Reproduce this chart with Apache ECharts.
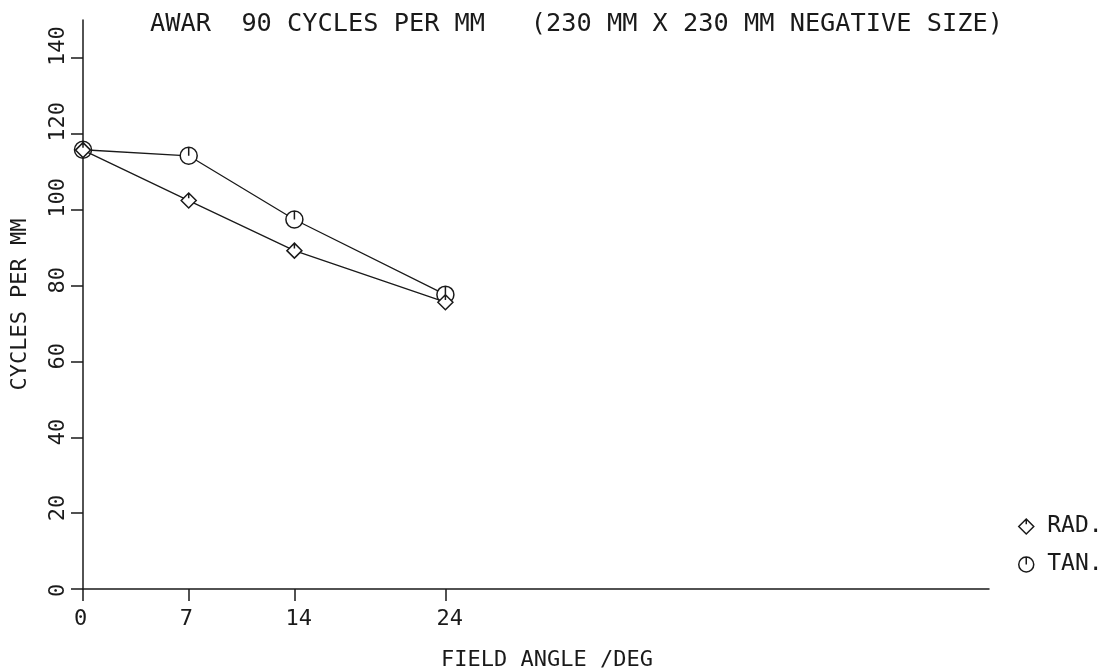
<!DOCTYPE html>
<html>
<head>
<meta charset="utf-8">
<script src="https://cdn.jsdelivr.net/npm/echarts@6/dist/echarts.min.js"></script>
<style>
html,body{margin:0;padding:0;background:#fff;}
#chart{width:1111px;height:671px;}
</style>
</head>
<body>
<div id="chart"></div>
<script>
const fieldAngles = [0, 7, 14, 24];
const radValues = [115.7, 102.4, 89.2, 75.6];
const tanValues = [115.8, 114.2, 97.4, 77.6];
const xTickValues = [0, 7, 14, 24];
const yTickValues = [0, 20, 40, 60, 80, 100, 120, 140];
const seriesNames = ['RAD.', 'TAN.'];
const titleText = 'AWAR  90 CYCLES PER MM   (230 MM X 230 MM NEGATIVE SIZE)';

const FONT = 'DejaVu Sans Mono';
const INK = '#1a1a1a';
const diamondSym = 'path://M0,-10 L10,0 L0,10 L-10,0 Z M0,-10 L0,-3';
const circleSym = 'path://M0,-10 A10,10 0 1,1 0,10 A10,10 0 1,1 0,-10 Z M0,-10 L0,0';

const chart = echarts.init(document.getElementById('chart'));
chart.setOption({
  backgroundColor: '#fff',
  animation: false,
  title: {
    text: titleText,
    left: 145, top: 7,
    textStyle: {fontFamily: FONT, fontSize: 25.3, fontWeight: 'normal', color: INK}
  },
  legend: {
    orient: 'vertical',
    left: 1013, top: 510,
    itemWidth: 32, itemHeight: 15, itemGap: 15,
    textStyle: {fontFamily: FONT, fontSize: 23, color: INK},
    data: [
      {name: seriesNames[0], icon: diamondSym, itemStyle: {color: '#fff', borderColor: INK, borderWidth: 1.5}},
      {name: seriesNames[1], icon: circleSym, itemStyle: {color: '#fff', borderColor: INK, borderWidth: 1.5}}
    ]
  },
  grid: {left: 83, right: 122, top: 20, bottom: 82, containLabel: false, outerBoundsMode: 'none'},
  xAxis: {
    type: 'value', min: 0, max: 60,
    name: 'FIELD ANGLE /DEG', nameLocation: 'middle', nameGap: 60,
    nameTextStyle: {fontFamily: FONT, fontSize: 22, color: INK, padding: [0, 0, 0, 22]},
    axisLine: {show: true, onZero: false, lineStyle: {color: INK, width: 1.5}},
    axisTick: {show: true, length: 12, customValues: xTickValues, lineStyle: {color: INK, width: 1.5}},
    axisLabel: {customValues: xTickValues, margin: 19, align: 'left', padding: [0, 0, 0, -9], fontFamily: FONT, fontSize: 22, color: INK},
    splitLine: {show: false}
  },
  yAxis: {
    type: 'value', min: 0, max: 150,
    name: 'CYCLES PER MM', nameLocation: 'middle', nameGap: 52,
    nameTextStyle: {fontFamily: FONT, fontSize: 22, color: INK},
    axisLine: {show: true, onZero: false, lineStyle: {color: INK, width: 1.5}},
    axisTick: {show: true, length: 12, customValues: yTickValues, lineStyle: {color: INK, width: 1.5}},
    axisLabel: {customValues: yTickValues, rotate: 90, margin: 14, align: 'left', padding: [0, 0, 0, -8], fontFamily: FONT, fontSize: 22, color: INK},
    splitLine: {show: false}
  },
  series: [
    {
      name: seriesNames[0], type: 'line',
      data: fieldAngles.map((x, i) => [x, radValues[i]]),
      symbol: diamondSym, symbolSize: 15,
      itemStyle: {color: '#fff', borderColor: INK, borderWidth: 1.5},
      lineStyle: {color: INK, width: 1.3}, z: 3
    },
    {
      name: seriesNames[1], type: 'line',
      data: fieldAngles.map((x, i) => [x, tanValues[i]]),
      symbol: circleSym, symbolSize: 17,
      itemStyle: {color: '#fff', borderColor: INK, borderWidth: 1.5},
      lineStyle: {color: INK, width: 1.3}, z: 2
    }
  ]
});
</script>
</body>
</html>
